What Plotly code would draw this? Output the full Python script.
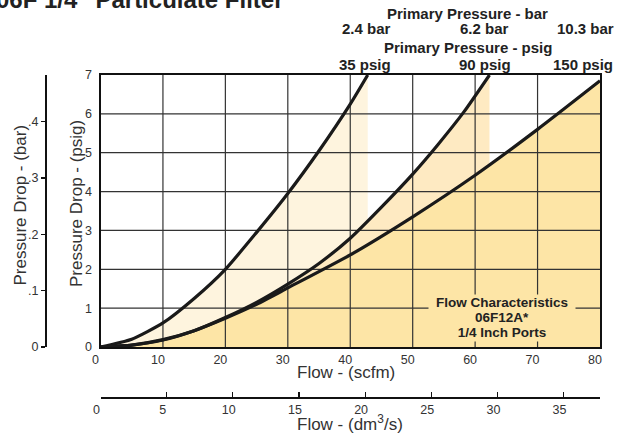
import plotly.graph_objects as go

# ---------------- data ----------------
# Flow (scfm) vs pressure drop (psig) for each primary pressure
flow_35 = [0, 5, 10, 15, 20, 25, 30, 35, 40, 42.8]
drop_35 = [0, 0.2, 0.62, 1.25, 2.0, 2.95, 3.95, 5.05, 6.25, 7.0]

flow_90 = [0, 5, 10, 15, 20, 25, 30, 35, 40, 45, 50, 54, 58.2, 62.3]
drop_90 = [0, 0.05, 0.19, 0.42, 0.76, 1.15, 1.62, 2.15, 2.8, 3.6, 4.45, 5.2, 6.05, 7.0]

flow_150 = [0, 5, 10, 15, 20, 25, 30, 40, 50, 60, 70, 80]
drop_150 = [0, 0.05, 0.18, 0.42, 0.74, 1.1, 1.52, 2.37, 3.35, 4.42, 5.6, 6.85]

series_labels_bar = ["2.4 bar", "6.2 bar", "10.3 bar"]
series_labels_psig = ["35 psig", "90 psig", "150 psig"]

scfm_ticks = [0, 10, 20, 30, 40, 50, 60, 70, 80]
psig_ticks = [0, 1, 2, 3, 4, 5, 6, 7]
bar_ticks = [0, 0.1, 0.2, 0.3, 0.4]
bar_tick_text = ["0", ".1", ".2", ".3", ".4"]
dm3_ticks = [0, 5, 10, 15, 20, 25, 30, 35]

SCFM_TO_DM3S = 0.471947
PSI_PER_BAR = 14.5038
X_MAX = 80
Y_MAX = 7

# ---------------- styling ----------------
W, H = 622, 439
ML, MR, MT, MB = 30, 22, 75, 29
PW, PH = W - ML - MR, H - MT - MB


def PX(x):
    """window pixel x -> paper fraction"""
    return (x - ML) / PW


def PY(y):
    """window pixel y -> paper fraction"""
    return (H - MB - y) / PH


C_LIGHT = "#FEF4DE"
C_MED = "#FEEAC2"
C_DARK = "#FDE5A6"
GRID = "#333333"
TXT = "#333333"
FONT = "Liberation Sans, Arial, Helvetica, sans-serif"

fig = go.Figure()

# fills (layered)
for fx, fy, col in [(flow_35, drop_35, C_LIGHT), (flow_90, drop_90, C_MED), (flow_150, drop_150, C_DARK)]:
    fig.add_trace(go.Scatter(x=fx, y=fy, mode="lines", line=dict(width=0, shape="spline", smoothing=0.6),
                             fill="tozeroy", fillcolor=col, hoverinfo="skip", showlegend=False))

# grid lines (drawn above fills, like the original)
gx, gy = [], []
for t in scfm_ticks[1:-1]:
    gx += [t, t, None]
    gy += [0, Y_MAX, None]
for t in psig_ticks[1:-1]:
    gx += [0, X_MAX, None]
    gy += [t, t, None]
fig.add_trace(go.Scatter(x=gx, y=gy, mode="lines", line=dict(color=GRID, width=1.2),
                         hoverinfo="skip", showlegend=False))

# curves
for fx, fy in [(flow_35, drop_35), (flow_90, drop_90), (flow_150, drop_150)]:
    fig.add_trace(go.Scatter(x=fx, y=fy, mode="lines",
                             line=dict(color="#1a1a1a", width=3.2, shape="spline", smoothing=0.6),
                             hoverinfo="skip", showlegend=False))

# invisible trace to activate the secondary (metric) axes
fig.add_trace(go.Scatter(x=[X_MAX * SCFM_TO_DM3S], y=[Y_MAX / PSI_PER_BAR], xaxis="x2", yaxis="y2",
                         mode="markers", marker=dict(opacity=0), hoverinfo="skip", showlegend=False))

x_dom = [PX(100.5), PX(600)]
y_dom = [PY(347), PY(75)]

fig.update_layout(
    width=W, height=H,
    margin=dict(l=ML, r=MR, t=MT, b=MB, pad=0),
    paper_bgcolor="white", plot_bgcolor="white",
    font=dict(family=FONT, size=12, color=TXT),
    showlegend=False,
    xaxis=dict(domain=x_dom, range=[0, X_MAX], tickvals=scfm_ticks, showgrid=False, zeroline=False,
               showline=True, mirror=True, linecolor="#111", linewidth=2, ticks="", ticklabelshift=-5,
               tickfont=dict(size=12.5, color=TXT), automargin=False, fixedrange=True),
    yaxis=dict(domain=y_dom, range=[0, Y_MAX], tickvals=psig_ticks, showgrid=False, zeroline=False,
               showline=True, mirror=True, linecolor="#111", linewidth=2, ticks="outside", ticklen=4,
               tickcolor="rgba(0,0,0,0)", tickfont=dict(size=12.5, color=TXT), automargin=False,
               fixedrange=True),
    xaxis2=dict(overlaying="x", anchor="free", position=PY(398), side="bottom",
                range=[0, X_MAX * SCFM_TO_DM3S], tickvals=dm3_ticks, showgrid=False, zeroline=False,
                showline=True, linecolor="#111", linewidth=2, ticks="inside", ticklen=5, tickwidth=1.2,
                tickcolor="#111", ticklabelshift=-4, tickfont=dict(size=12.5, color=TXT),
                automargin=False, fixedrange=True),
    yaxis2=dict(overlaying="y", anchor="free", position=PX(46), side="left",
                range=[0, Y_MAX / PSI_PER_BAR], tickvals=bar_ticks, ticktext=bar_tick_text,
                showgrid=False, zeroline=False, showline=True, linecolor="#111", linewidth=2,
                ticks="outside", ticklen=4, tickwidth=1.2, tickcolor="#111",
                tickfont=dict(size=12.5, color=TXT), automargin=False, fixedrange=True),
)

ann = []


def add_text(text, x, y, size, bold=False, color=TXT, angle=0, xanchor="center", **kw):
    t = f"<b>{text}</b>" if bold else text
    d = dict(text=t, x=PX(x), y=PY(y), xref="paper", yref="paper", xanchor=xanchor, yanchor="middle",
             showarrow=False, textangle=angle, font=dict(family=FONT, size=size, color=color))
    d.update(kw)
    ann.append(d)


# chart title (partially cut off at the top-left, as in the original)
add_text('06F 1/4" Particulate Filter', -6, -1, 24, bold=True, color="#222", xanchor="left")

# primary pressure labels
add_text("Primary Pressure - bar", 468, 13.5, 15, bold=True, color="#222")
add_text("Primary Pressure - psig", 468.5, 48, 15, bold=True, color="#222")
for lab, xc in zip(series_labels_bar, [366.5, 484.5, 585]):
    add_text(lab, xc, 29, 15, bold=True, color="#222")
for lab, xc in zip(series_labels_psig, [364.5, 484.5, 583]):
    add_text(lab, xc, 64, 15, bold=True, color="#222")

# axis titles
add_text("Flow - (scfm)", 346.5, 372, 17)
add_text("Flow - (dm<sup>3</sup>/s)", 349.5, 423, 17)
add_text("n", 373, 442, 12)
add_text("Pressure Drop - (psig)", 76, 204, 17, angle=-90)
add_text("Pressure Drop - (bar)", 19.5, 205, 17, angle=-90)

# flow characteristics box
for line, yc in zip(["Flow Characteristics", "06F12A*", "1/4 Inch Ports"], [303, 318, 332.5]):
    add_text(line, 502, yc, 13.5, bold=True, color="#222", bgcolor=C_DARK, width=146, height=15.5,
             borderpad=0)

fig.update_layout(annotations=ann)

fig.write_html(
    "out.html",
    config={"displayModeBar": False, "staticPlot": True},
    post_script="document.body.style.margin='0';document.body.style.overflow='hidden';",
)
